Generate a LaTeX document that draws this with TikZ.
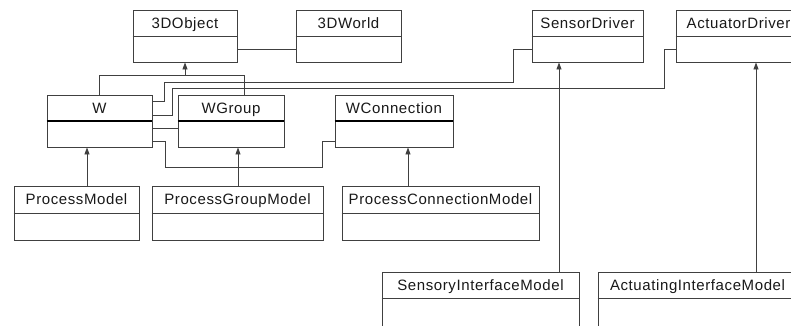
\documentclass[tikz,border=0pt]{standalone}
\usepackage{fontspec}
\newfontfamily\umlfont{Liberation Sans}[LetterSpace=4]
\usetikzlibrary{arrows.meta,calc}
\begin{document}
\begin{tikzpicture}[x=1pt,y=-1pt,
  line width=0.9pt,
  cls/.style={draw=black!75,line width=0.9pt,rectangle,inner sep=0pt},
  title/.style={font=\umlfont\fontsize{15}{18}\selectfont,inner sep=0pt,text height=11pt,text depth=3pt,text=black!90},
  divthin/.style={draw=black!75,line width=0.9pt},
  divthick/.style={draw=black,line width=1.7pt},
  arr/.style={-{Triangle[width=5pt,length=7pt]},draw=black!75,line width=0.9pt},
  conn/.style={draw=black!75,line width=0.9pt}]
\useasboundingbox (0,0) rectangle (791,325);
\fill[white] (0,0) rectangle (791,325);
\clip (0,0) rectangle (791,325);

% classes
\node[cls,minimum width=104pt,minimum height=52pt] (obj) at (185,36) {};
\node[cls,minimum width=105pt,minimum height=52pt] (world) at (348.5,36) {};
\node[cls,minimum width=111pt,minimum height=52pt] (sd) at (587.5,36) {};
\node[cls,minimum width=125pt,minimum height=52pt] (ad) at (738.5,36) {};
\node[cls,minimum width=105pt,minimum height=52pt] (w) at (99.5,121) {};
\node[cls,minimum width=106pt,minimum height=52pt] (wg) at (231,121) {};
\node[cls,minimum width=118pt,minimum height=52pt] (wc) at (394,121) {};
\node[cls,minimum width=125pt,minimum height=54pt] (pm) at (76.5,213) {};
\node[cls,minimum width=171pt,minimum height=54pt] (pgm) at (237.5,213) {};
\node[cls,minimum width=197pt,minimum height=54pt] (pcm) at (440.5,213) {};
\node[cls,minimum width=197pt,minimum height=80pt] (sim) at (480.5,312) {};
\node[cls,minimum width=199pt,minimum height=80pt] (aim) at (697.5,312) {};

% dividers
\draw[divthin] (obj.west |- 0,36) -- (obj.east |- 0,36);
\draw[divthin] (world.west |- 0,36) -- (world.east |- 0,36);
\draw[divthin] (sd.west |- 0,36) -- (sd.east |- 0,36);
\draw[divthin] (ad.west |- 0,36) -- (ad.east |- 0,36);
\draw[divthick] (w.west |- 0,121) -- (w.east |- 0,121);
\draw[divthick] (wg.west |- 0,121) -- (wg.east |- 0,121);
\draw[divthick] (wc.west |- 0,121) -- (wc.east |- 0,121);
\draw[divthin] (pm.west |- 0,213) -- (pm.east |- 0,213);
\draw[divthin] (pgm.west |- 0,213) -- (pgm.east |- 0,213);
\draw[divthin] (pcm.west |- 0,213) -- (pcm.east |- 0,213);
\draw[divthin] (sim.west |- 0,298) -- (sim.east |- 0,298);
\draw[divthin] (aim.west |- 0,298) -- (aim.east |- 0,298);

% titles
\node[title] (tobj) at ($(obj.north)+(0,14.5)$) {3DObject};
\node[title] (tworld) at ($(world.north)+(0,14.5)$) {3DWorld};
\node[title] (tsd) at ($(sd.north)+(0,14.5)$) {SensorDriver};
\node[title] (tad) at ($(ad.north)+(0,14.5)$) {ActuatorDriver};
\node[title] (tw) at ($(w.north)+(0,14.5)$) {W};
\node[title] (twg) at ($(wg.north)+(0,14.5)$) {WGroup};
\node[title] (twc) at ($(wc.north)+(0,14.5)$) {WConnection};
\node[title] (tpm) at ($(pm.north)+(0,15)$) {ProcessModel};
\node[title] (tpgm) at ($(pgm.north)+(0,15)$) {ProcessGroupModel};
\node[title] (tpcm) at ($(pcm.north)+(0,15)$) {ProcessConnectionModel};
\node[title] (tsim) at ($(sim.north)+(0,14.5)$) {SensoryInterfaceModel};
\node[title] (taim) at ($(aim.north)+(0,14.5)$) {ActuatingInterfaceModel};

% generalizations
\coordinate (jg) at (185,75);
\draw[arr] (jg) -- (185,0 |- obj.south);
\draw[conn] (99,0 |- w.north) -- (99,75) -- (244,75) -- (244,0 |- wg.north);
\draw[arr] (87,0 |- pm.north) -- (87,0 |- w.south);
\draw[arr] (238,0 |- pgm.north) -- (238,0 |- wg.south);
\draw[arr] (408,0 |- pcm.north) -- (408,0 |- wc.south);
\draw[arr] (559,0 |- sim.north) -- (559,0 |- sd.south);
\draw[arr] (756,0 |- aim.north) -- (756,0 |- ad.south);

% associations
\draw[conn] (obj.east |- 0,49) -- (world.west |- 0,49);
\draw[conn] (w.east |- 0,101) -- (164,101) -- (164,82) -- (513,82) -- (513,49) -- (sd.west |- 0,49);
\draw[conn] (w.east |- 0,115) -- (172,115) -- (172,88) -- (664,88) -- (664,49) -- (ad.west |- 0,49);
\draw[conn] (w.east |- 0,128) -- (wg.west |- 0,128);
\draw[conn] (w.east |- 0,141) -- (165,141) -- (165,167) -- (322,167) -- (322,141) -- (wc.west |- 0,141);
\end{tikzpicture}
\end{document}
